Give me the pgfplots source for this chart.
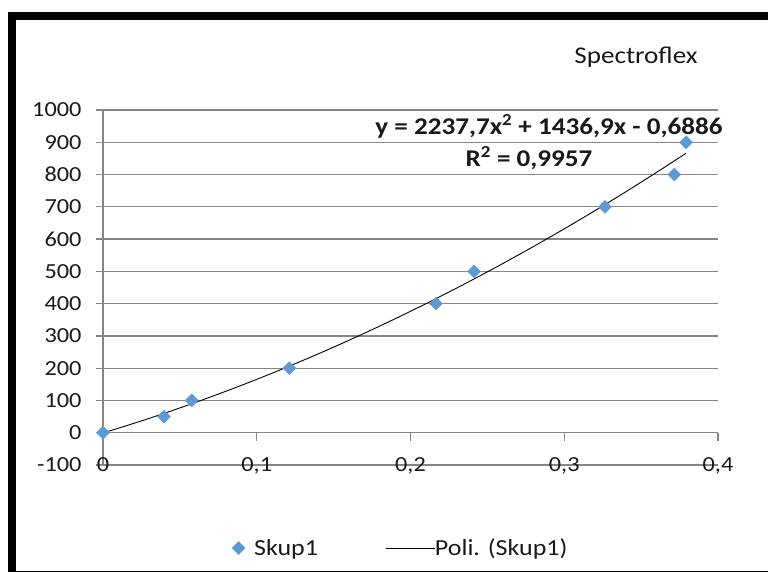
\documentclass[border=0pt]{standalone}
\usepackage{fontspec}
\setmainfont{Carlito}[FakeStretch=1.13]
\usepackage{pgfplots}
\pgfplotsset{compat=1.18}
\definecolor{gridgray}{RGB}{134,134,134}
\definecolor{ptblue}{RGB}{91,155,213}

\begin{document}
\begin{tikzpicture}[x=1pt,y=1pt]
\useasboundingbox (0,0) rectangle (768,572);
\draw[line width=8pt] (12,556) rectangle (790,-3);
\begin{axis}[
    at={(103pt,107pt)}, anchor=south west,
    scale only axis, width=615pt, height=355pt,
    xmin=0, xmax=0.4, ymin=-100, ymax=1000,
    axis x line=bottom, axis y line=left,
    axis line style={-, draw=gridgray, line width=1.2pt},
    xtick={0,0.1,0.2,0.3,0.4},
    xticklabels={0,{0,1},{0,2},{0,3},{0,4}},
    ytick={-100,0,100,...,1000},
    ymajorgrids,
    grid style={gridgray, line width=1.2pt},
    tick align=outside,
    major tick length=7pt,
    tick style={gridgray, line width=1.2pt},
    major x tick style={draw=none},
    /pgf/number format/assume math mode=true,
    /pgf/number format/1000 sep={},
    ticklabel style={font=\fontsize{21.5}{24}\selectfont, text=black!90},
    yticklabel style={xshift=-11pt},
    xticklabel style={anchor=base, yshift=0pt},
    clip=false,
    legend style={at={(0.49,-0.234)}, anchor=center, legend columns=2,
        draw=none, fill=none, font=\fontsize{23}{28}\selectfont,
        text=black!90, nodes={inner xsep=9pt},
        /tikz/every even column/.append style={column sep=58pt}},
]
\addplot[only marks, mark=square*, mark size=4.6pt,
    mark options={rotate=45, fill=ptblue, draw=ptblue}] coordinates {
    (0,0) (0.0397,50) (0.0577,100) (0.1212,200) (0.2166,400)
    (0.2413,500) (0.3265,700) (0.3716,800) (0.3792,900)};
\addlegendentry{Skup1}
\addplot[black, line width=0.9pt, smooth,
    legend image code/.code={\path (0pt,0pt) -- (40pt,0pt);
        \draw[black, line width=0.9pt, overlay] (0pt,0pt) -- (49pt,0pt);}]
    coordinates {
    (0,-0.69) (0.02,28.94) (0.04,60.37) (0.06,93.58) (0.08,128.58)
    (0.10,165.38) (0.12,203.96) (0.14,244.34) (0.16,286.50) (0.18,330.45)
    (0.20,376.20) (0.22,423.73) (0.24,473.06) (0.26,524.17) (0.28,577.08)
    (0.30,631.77) (0.32,688.26) (0.34,746.54) (0.36,806.60) (0.3792,865.94)};
\addlegendentry{Poli. (Skup1)}
% x axis line sits at y = 0 in the original; ticks hang below it
\draw[gridgray, line width=1.2pt] (axis cs:0,0) -- ++(0pt,-8pt);
\draw[gridgray, line width=1.2pt] (axis cs:0.1,0) -- ++(0pt,-8pt);
\draw[gridgray, line width=1.2pt] (axis cs:0.2,0) -- ++(0pt,-8pt);
\draw[gridgray, line width=1.2pt] (axis cs:0.3,0) -- ++(0pt,-8pt);
\draw[gridgray, line width=1.2pt] (axis cs:0.4,0) -- ++(0pt,-8pt);
\end{axis}
\node[font=\fontsize{24}{28}\selectfont, text=black!90] at (636,515) {Spectroflex};
\node[font=\fontsize{24}{28}\selectfont\bfseries, text=black!90] at (549,446)
    {y = 2237,7x\textsuperscript{2} + 1436,9x - 0,6886};
\node[font=\fontsize{24}{28}\selectfont\bfseries, text=black!90] at (529,414)
    {R\textsuperscript{2} = 0,9957};
\end{tikzpicture}
\end{document}
